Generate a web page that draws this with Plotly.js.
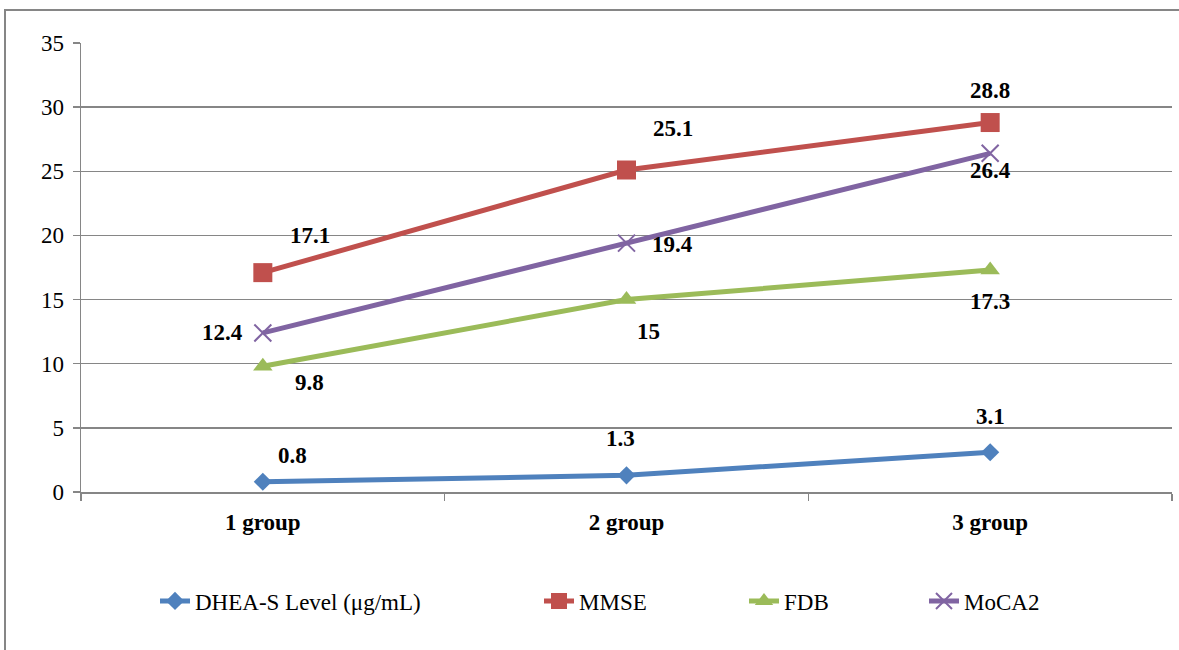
<!DOCTYPE html>
<html><head><meta charset="utf-8">
<script src="https://cdn.plot.ly/plotly-3.0.1.min.js"></script>
<style>html,body{margin:0;padding:0;background:#fff}#chart{width:1179px;height:650px}</style>
</head><body><div id="chart"></div>
<script>
const categories = ["1 group", "2 group", "3 group"];
const seriesNames = ["DHEA-S Level (μg/mL)", "MMSE", "FDB", "MoCA2"];
const dhea = [0.8, 1.3, 3.1];
const mmse = [17.1, 25.1, 28.8];
const fdb = [9.8, 15, 17.3];
const moca = [12.4, 19.4, 26.4];
const yTicks = [0, 5, 10, 15, 20, 25, 30, 35];

const FONT = "Liberation Serif";
const colors = ["#4F81BD", "#C0504D", "#9BBB59", "#8064A2"];
const symbols = ["diamond", "square", "triangle-up", "x-thin-open"];
const sizes = [14, 19, 17, 17];
const values = [dhea, mmse, fdb, moca];
const legendIds = ["legend", "legend2", "legend3", "legend4"];

const traces = values.map((v, i) => ({
  type: "scatter", mode: "lines+markers", x: categories, y: v, name: seriesNames[i],
  legend: legendIds[i],
  line: {color: colors[i], width: 5},
  marker: {symbol: symbols[i], size: sizes[i], color: colors[i], line: {color: colors[i], width: i === 3 ? 2 : 0}}
}));

const offsets = [
  [[30, -26], [-6, -37], [0, -36]],
  [[47, -37], [46, -42], [0, -32]],
  [[47, 16], [22, 32], [0, 31]],
  [[-40, 0], [46, 1], [0, 17]]
];
const annotations = [];
values.forEach((v, i) => v.forEach((val, j) => {
  annotations.push({
    x: categories[j], y: val, text: "<b>" + val + "</b>", showarrow: false,
    xshift: offsets[i][j][0], yshift: -offsets[i][j][1],
    font: {family: FONT, size: 23, color: "#000"}
  });
}));

const legendTextX = [196, 580, 785, 965];
const legends = {};
legendIds.forEach((id, i) => {
  legends[id] = {
    orientation: "h", xref: "container", yref: "container",
    x: (legendTextX[i] - 41) / 1179, y: 1 - 601 / 650, xanchor: "left", yanchor: "middle",
    font: {family: FONT, size: 23, color: "#000"},
    bgcolor: "rgba(0,0,0,0)", borderwidth: 0
  };
});

const layout = Object.assign({
  width: 1179, height: 650,
  margin: {l: 81, r: 7, t: 43, b: 158},
  paper_bgcolor: "#fff", plot_bgcolor: "#fff",
  showlegend: true,
  font: {family: FONT, size: 23, color: "#000"},
  xaxis: {
    type: "category", range: [-0.5, 2.5], tickson: "boundaries", ticks: "outside", ticklen: 7, tickwidth: 1.5, tickcolor: "#868686",
    showline: true, linecolor: "#868686", linewidth: 1.5, showgrid: false, zeroline: false,
    tickfont: {family: FONT, size: 23, color: "#000", weight: "bold"},
    ticklabelstandoff: 9, fixedrange: true
  },
  yaxis: {
    range: [0, 35], tickvals: yTicks, ticktext: yTicks.map(String), ticks: "outside", ticklen: 7, tickwidth: 1.5, tickcolor: "#868686",
    showline: true, linecolor: "#868686", linewidth: 1.5, showgrid: true, gridcolor: "#868686", gridwidth: 1.5,
    zeroline: false, tickfont: {family: FONT, size: 23, color: "#000"},
    ticklabelstandoff: 4, fixedrange: true
  },
  annotations: annotations,
  shapes: [{
    type: "rect", xref: "paper", yref: "paper",
    x0: (5 - 81) / 1091, x1: (1185 - 81) / 1091, y0: (492 - 660) / 449, y1: (492 - 10) / 449,
    line: {color: "#868686", width: 2}, fillcolor: "rgba(0,0,0,0)", layer: "below"
  }]
}, legends);

Plotly.newPlot("chart", traces, layout, {displayModeBar: false, staticPlot: true});
</script></body></html>
